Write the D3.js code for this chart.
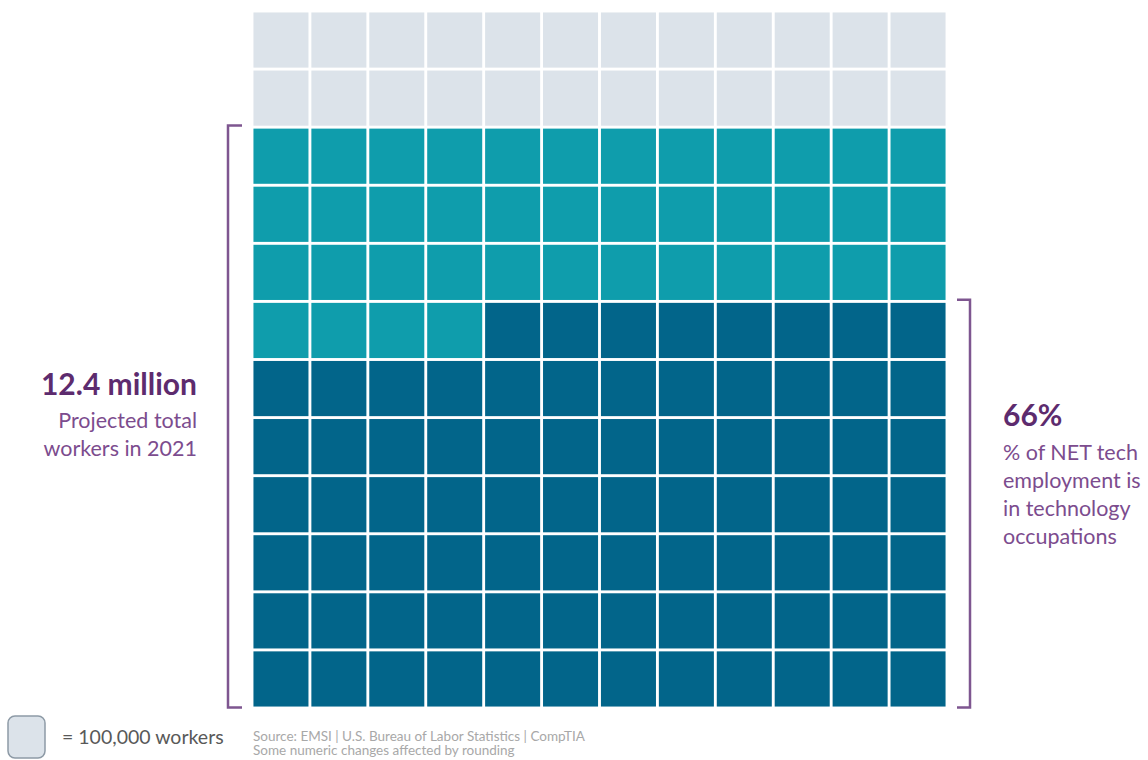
<!DOCTYPE html>
<meta charset="utf-8">
<script src="https://cdn.jsdelivr.net/npm/d3@7"></script>
<style>
  body { margin: 0; background: #fff; }
  text { font-family: Lato, "Open Sans", sans-serif; }
</style>
<body>
<svg width="1148" height="760"></svg>
<script>
    // each cell = 100,000 workers, filled row by row from the top-left
    var groups  = ['other', 'techOther', 'techOccupations'];
    var counts  = [24, 40, 80];
    var colors  = ['#dce3ea', '#0f9dac', '#02658a'];
    var nCols = 12, nRows = 12;

    var leftLabel  = ['12.4 million', 'Projected total', 'workers in 2021'];
    var rightLabel = ['66%', '% of NET tech', 'employment is', 'in technology', 'occupations'];
    var legendText = '= 100,000 workers';
    var sourceText = ['Source: EMSI | U.S. Bureau of Labor Statistics | CompTIA',
                      'Some numeric changes affected by rounding'];

    var svg = d3.select('svg');
    var purple = '#5d2b6e', purpleLight = '#7c4c8e', bracket = '#7e5690';

    var cells = [];
    groups.forEach(function(g, gi){
        d3.range(counts[gi]).forEach(function(){ cells.push({group: g, idx: cells.length}); });
    });

    var x = d3.scaleBand().domain(d3.range(nCols)).range([252, 947]).paddingInner(0.05).paddingOuter(0.025);
    var y = d3.scaleBand().domain(d3.range(nRows)).range([11, 708]).paddingInner(0.05).paddingOuter(0.025);
    var color = d3.scaleOrdinal(groups, colors);

    svg.selectAll('rect.cell').data(cells)
        .enter().append('rect')
        .attr('class', 'cell')
        .attr('x', function(d){ return x(d.idx % nCols); })
        .attr('y', function(d){ return y(Math.floor(d.idx / nCols)); })
        .attr('width', x.bandwidth())
        .attr('height', y.bandwidth())
        .attr('fill', function(d){ return color(d.group); });

    // brackets: left spans all tech cells, right spans tech occupations
    var firstTech = counts[0], firstOcc = counts[0] + counts[1];
    var yTop = function(i){ return y(Math.floor(i / nCols)) - 3; };
    var yBot = y(nRows - 1) + y.bandwidth() + 1;

    svg.append('path')
        .attr('d', 'M242,' + yTop(firstTech) + 'H228V' + yBot + 'H242')
        .attr('fill', 'none').attr('stroke', bracket).attr('stroke-width', 2.5);
    svg.append('path')
        .attr('d', 'M957,' + yTop(firstOcc) + 'H970V' + yBot + 'H957')
        .attr('fill', 'none').attr('stroke', bracket).attr('stroke-width', 2.5);

    // left annotation
    var lt = svg.append('g').attr('text-anchor', 'end');
    lt.append('text').attr('x', 197).attr('y', 395).attr('font-size', 30).attr('font-weight', 700)
        .attr('fill', purple).text(leftLabel[0]);
    lt.selectAll('text.sub').data(leftLabel.slice(1)).enter().append('text')
        .attr('class', 'sub').attr('x', 197).attr('y', function(d, i){ return 428 + i * 28; })
        .attr('font-size', 21.5).attr('fill', purpleLight).text(function(d){ return d; });

    // right annotation
    var rt = svg.append('g');
    rt.append('text').attr('x', 1003).attr('y', 426).attr('font-size', 30).attr('font-weight', 700)
        .attr('fill', purple).text(rightLabel[0]);
    rt.selectAll('text.sub').data(rightLabel.slice(1)).enter().append('text')
        .attr('class', 'sub').attr('x', 1003).attr('y', function(d, i){ return 460 + i * 28; })
        .attr('font-size', 21.5).attr('fill', purpleLight).text(function(d){ return d; });

    // legend
    svg.append('rect').attr('x', 8).attr('y', 716).attr('width', 37).attr('height', 42).attr('rx', 7)
        .attr('fill', colors[0]).attr('stroke', '#8d9aa6').attr('stroke-width', 1.5);
    svg.append('text').attr('x', 62).attr('y', 744).attr('font-size', 19.5).attr('fill', '#595959').text(legendText);

    svg.selectAll('text.src').data(sourceText).enter().append('text')
        .attr('class', 'src').attr('x', 253).attr('y', function(d, i){ return 741 + i * 14; })
        .attr('font-size', 13.5).attr('fill', '#a8a8a8').text(function(d){ return d; });
</script>
</body>
